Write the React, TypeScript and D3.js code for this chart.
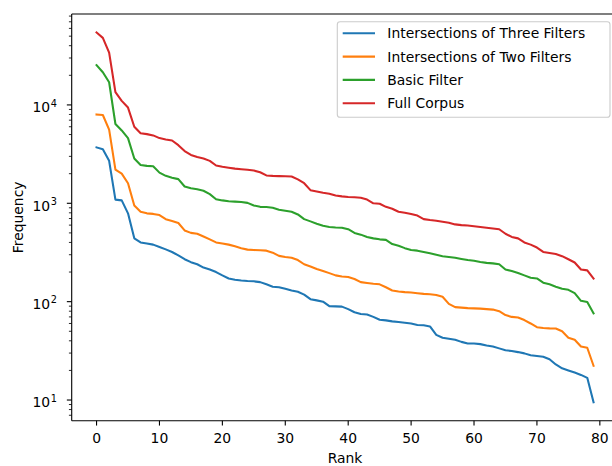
import React from "react";
import * as d3 from "d3";

const ranks: number[] = Array.from({ length: 80 }, (_, i) => i);

const threeFilters: number[] = [
  3700, 3550, 2700, 1090, 1070, 790, 440, 400, 390, 380,
  360, 340, 320, 295, 270, 252, 240, 222, 212, 200,
  185, 172, 167, 164, 162, 161, 158, 150, 142, 140,
  135, 130, 126, 118, 106, 103, 100, 90, 89.5, 89,
  84, 78, 75, 74, 70, 65.5, 64.5, 63, 62, 61,
  60, 58, 57.5, 56, 46, 43, 42, 41, 39, 37.6,
  37.5, 37, 35.8, 35, 33.5, 32, 31.5, 30.7, 29.8, 28.5,
  28, 27.5, 26, 23, 21, 20, 19, 18, 16.8, 9.5,
];

const twoFilters: number[] = [
  8000, 7900, 5600, 2200, 2000, 1600, 950, 820, 790, 780,
  760, 690, 660, 630, 530, 500, 490, 460, 430, 400,
  390, 380, 365, 350, 338, 335, 333, 330, 315, 292,
  285, 280, 265, 240, 228, 215, 205, 195, 185, 180,
  178, 170, 158, 155, 152, 150, 140, 130, 127, 125,
  124, 122, 120, 119, 117, 112, 95, 88, 87, 86,
  85.5, 85, 84, 83, 80, 73, 70, 69, 65, 60,
  55, 54, 53.5, 53.3, 50, 43, 41, 35, 34, 22.3,
];

const basicFilter: number[] = [
  25400, 21500, 17000, 6400, 5500, 4600, 2850, 2450, 2400, 2380,
  2050, 1900, 1820, 1760, 1480, 1420, 1390, 1340, 1240, 1100,
  1070, 1050, 1040, 1030, 1010, 950, 920, 915, 900, 860,
  840, 820, 770, 690, 655, 620, 590, 575, 568, 565,
  545, 500, 480, 455, 440, 430, 425, 385, 370, 350,
  335, 330, 320, 310, 300, 290, 285, 280, 272, 265,
  260, 253, 248, 245, 240, 212, 205, 196, 185, 175,
  172, 156, 150, 142, 135, 132, 122, 102, 99, 76,
];

const fullCorpus: number[] = [
  54500, 48000, 34000, 13500, 11000, 9400, 6000, 5150, 5050, 4900,
  4600, 4450, 4350, 3900, 3400, 3100, 2950, 2850, 2700, 2420,
  2350, 2300, 2250, 2220, 2190, 2150, 2070, 1920, 1900, 1890,
  1880, 1870, 1750, 1600, 1360, 1320, 1280, 1250, 1200, 1175,
  1160, 1150, 1140, 1090, 1000, 990, 920, 880, 820, 800,
  780, 750, 690, 675, 665, 650, 635, 610, 600, 595,
  585, 575, 565, 555, 545, 490, 455, 440, 400, 380,
  355, 320, 312, 305, 290, 270, 250, 212, 208, 172,
];

const seriesNames: string[] = [
  "Intersections of Three Filters",
  "Intersections of Two Filters",
  "Basic Filter",
  "Full Corpus",
];
const seriesColors: string[] = ["#1f77b4", "#ff7f0e", "#2ca02c", "#d62728"];
const seriesValues: number[][] = [threeFilters, twoFilters, basicFilter, fullCorpus];

const xTicks: number[] = [0, 10, 20, 30, 40, 50, 60, 70, 80];
const yMajorExp: number[] = [1, 2, 3, 4];

const W = 612;
const H = 466;
const left = 71.7;
const top = 14;
const bottom = 420.7;
const right = 618.4;
const FONT = "DejaVu Sans, sans-serif";
const FS = 13.9;

export default function App() {
  const xMin = -3.95, xMax = 82.95;
  const x = d3.scaleLinear().domain([xMin, xMax]).range([left, right]);
  const all = seriesValues.flat();
  const lmin = Math.log10(d3.min(all) as number);
  const lmax = Math.log10(d3.max(all) as number);
  const span = lmax - lmin;
  const y = d3
    .scaleLog()
    .domain([Math.pow(10, lmin - 0.05 * span), Math.pow(10, lmax + 0.05 * span)])
    .range([bottom, top]);

  const line = d3
    .line<number>()
    .x((_, i) => x(ranks[i]))
    .y((d) => y(d));

  const [d0, d1] = y.domain();
  const minor: number[] = [];
  for (let e = Math.floor(Math.log10(d0)); e <= Math.ceil(Math.log10(d1)); e++) {
    for (let m = 2; m <= 9; m++) {
      const v = m * Math.pow(10, e);
      if (v >= d0 && v <= d1) minor.push(v);
    }
  }

  const legX = 337.3, legY = 21.7, legW = 272.7, legH = 95.6;

  return (
    <svg
      width={W}
      height={H}
      style={{ position: "absolute", left: 0, top: 0, background: "#fff" }}
      fontFamily={FONT}
    >
      <defs>
        <clipPath id="plotclip">
          <rect x={left} y={top} width={right - left} height={bottom - top} />
        </clipPath>
      </defs>
      <g clipPath="url(#plotclip)">
        {seriesValues.map((vals, k) => (
          <path
            key={k}
            d={line(vals) || ""}
            fill="none"
            stroke={seriesColors[k]}
            strokeWidth={2.08}
            strokeLinejoin="round"
            strokeLinecap="square"
          />
        ))}
      </g>
      {/* spines */}
      <line x1={left} x2={left} y1={top} y2={bottom} stroke="#000" strokeWidth={1.11} />
      <line x1={left} x2={right} y1={bottom} y2={bottom} stroke="#000" strokeWidth={1.11} />
      <line x1={left} x2={right} y1={top} y2={top} stroke="#000" strokeWidth={1.11} />
      {/* x ticks */}
      {xTicks.map((t) => (
        <g key={t}>
          <line x1={x(t)} x2={x(t)} y1={bottom} y2={bottom + 4.86} stroke="#000" strokeWidth={1.11} />
          <text x={x(t)} y={bottom + 22.5} textAnchor="middle" fontSize={FS} fill="#000">
            {t}
          </text>
        </g>
      ))}
      {/* y ticks */}
      {minor.map((v, i) => (
        <line key={i} x1={left - 2.78} x2={left} y1={y(v)} y2={y(v)} stroke="#000" strokeWidth={0.83} />
      ))}
      {yMajorExp.map((e) => {
        const yy = y(Math.pow(10, e));
        return (
          <g key={e}>
            <line x1={left - 4.86} x2={left} y1={yy} y2={yy} stroke="#000" strokeWidth={1.11} />
            <text x={50.2} y={yy + 7.3} textAnchor="end" fontSize={FS} fill="#000">
              10
            </text>
            <text x={50.8} y={yy + 1.8} textAnchor="start" fontSize={FS * 0.7} fill="#000">
              {e}
            </text>
          </g>
        );
      })}
      {/* axis labels */}
      <text x={(left + right) / 2} y={463} textAnchor="middle" fontSize={FS} fill="#000">
        Rank
      </text>
      <text
        transform={`translate(23.3, ${(top + bottom) / 2}) rotate(-90)`}
        textAnchor="middle"
        fontSize={FS}
        fill="#000"
      >
        Frequency
      </text>
      {/* legend */}
      <rect
        x={legX}
        y={legY}
        width={legW}
        height={legH}
        rx={2.8}
        fill="#fff"
        fillOpacity={0.8}
        stroke="#cccccc"
        strokeWidth={1.11}
      />
      {seriesNames.map((name, k) => {
        const yy = legY + 11.6 + k * 23.3;
        return (
          <g key={name}>
            <line x1={342.7} x2={375} y1={yy} y2={yy} stroke={seriesColors[k]} strokeWidth={2.08} />
            <text x={387.3} y={yy + 5} fontSize={FS} fill="#000">
              {name}
            </text>
          </g>
        );
      })}
    </svg>
  );
}
